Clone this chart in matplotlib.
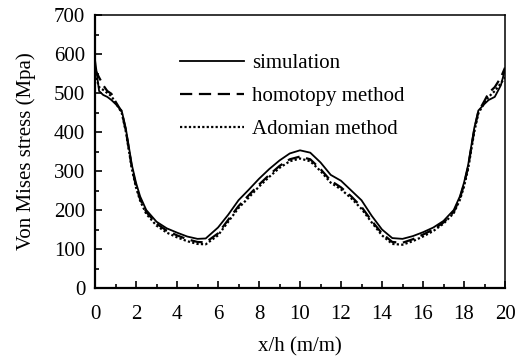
import matplotlib
matplotlib.use("Agg")
import matplotlib.pyplot as plt
from matplotlib.ticker import MultipleLocator

plt.rcParams['font.family'] = ['Liberation Serif', 'DejaVu Serif']

x = [0, 0.2, 0.4, 0.6, 0.8, 1.0, 1.3, 1.5, 1.8, 2.0, 2.2, 2.5, 3.0, 3.5, 4.0, 4.5,
     5.0, 5.4, 6.0, 6.5, 7.0, 7.5, 8.0, 8.5, 9.0, 9.5, 10.0, 10.5, 11.0, 11.5,
     12.0, 12.5, 13.0, 13.5, 14.0, 14.5, 15.0, 15.5, 16.0, 16.5, 17.0, 17.5,
     17.8, 18.0, 18.2, 18.5, 18.7, 19.0, 19.2, 19.5, 19.8, 20.0]

simulation = [585, 505, 495, 490, 482, 472, 455, 410, 315, 270, 235, 200, 170, 153,
              142, 132, 126, 127, 155, 188, 225, 252, 280, 305, 327, 345, 353, 347,
              322, 290, 275, 250, 225, 185, 150, 128, 126, 133, 143, 155, 172, 200,
              235, 270, 315, 410, 455, 472, 482, 490, 520, 560]

homotopy = [560, 540, 520, 505, 498, 478, 452, 405, 308, 262, 228, 195, 165, 147,
            135, 125, 118, 117, 140, 175, 210, 238, 265, 290, 313, 330, 337, 330,
            305, 275, 258, 235, 208, 172, 140, 118, 116, 125, 137, 150, 168, 195,
            230, 265, 310, 405, 452, 480, 500, 515, 540, 565]

adomian = [550, 515, 508, 500, 492, 475, 450, 402, 305, 258, 224, 190, 160, 142,
           130, 120, 113, 112, 135, 170, 205, 232, 260, 285, 308, 325, 332, 325,
           300, 270, 253, 230, 203, 168, 135, 113, 111, 120, 132, 146, 165, 192,
           226, 260, 305, 400, 448, 475, 490, 505, 525, 540]

fig = plt.figure(figsize=(5.21, 3.59), dpi=100)
ax = fig.add_axes([95 / 521, 1 - 288 / 359, 410 / 521, 273 / 359])

ax.plot(x, simulation, color='black', linewidth=1.3, linestyle='-', label='simulation')
ax.plot(x, homotopy, color='black', linewidth=1.6, linestyle=(0, (5.5, 3)), label='homotopy method')
ax.plot(x, adomian, color='black', linewidth=1.6, linestyle=(0, (1, 1)), label='Adomian method')

ax.set_xlim(0, 20)
ax.set_ylim(0, 700)
ax.xaxis.set_major_locator(MultipleLocator(2))
ax.xaxis.set_minor_locator(MultipleLocator(1))
ax.yaxis.set_major_locator(MultipleLocator(100))
ax.yaxis.set_minor_locator(MultipleLocator(50))
ax.tick_params(which='both', direction='in', top=False, right=False, labelsize=15, width=1.2)
ax.tick_params(which='major', length=5)
ax.tick_params(which='minor', length=3)
ax.tick_params(axis='x', which='major', pad=12)
ax.tick_params(axis='y', which='major', pad=7)

for side in ['left', 'bottom']:
    ax.spines[side].set_linewidth(1.6)
for side in ['top', 'right']:
    ax.spines[side].set_linewidth(1.1)

ax.set_xlabel('x/h (m/m)', fontsize=15, labelpad=10)
ax.set_ylabel('Von Mises stress (Mpa)', fontsize=15, labelpad=13)

ax.legend(loc='upper left', bbox_to_anchor=(0.207, 0.86), frameon=False, fontsize=15,
          handlelength=3.1, labelspacing=0.65, handletextpad=0.35,
          borderpad=0, borderaxespad=0)

fig.savefig('out.png', dpi=100)
